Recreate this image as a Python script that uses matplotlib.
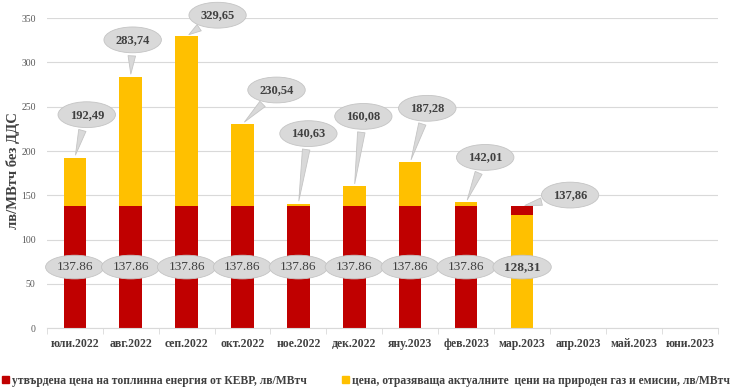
import matplotlib
matplotlib.use('Agg')
import matplotlib.pyplot as plt
from matplotlib.patches import Patch
import numpy as np

# data
months = ['юли.2022', 'авг.2022', 'сеп.2022', 'окт.2022', 'ное.2022', 'дек.2022',
          'яну.2023', 'фев.2023', 'мар.2023', 'апр.2023', 'май.2023', 'юни.2023']
kevr_price = [137.86, 137.86, 137.86, 137.86, 137.86, 137.86, 137.86, 137.86, 137.86]
gas_price = [192.49, 283.74, 329.65, 230.54, 140.63, 160.08, 187.28, 142.01, 128.31]
top_labels = ['192,49', '283,74', '329,65', '230,54', '140,63', '160,08',
              '187,28', '142,01', '137,86']
bottom_labels = ['137.86', '137.86', '137.86', '137.86', '137.86', '137.86',
                 '137.86', '137.86', '128,31']
legend_labels = ['утвърдена цена на топлинна енергия от КЕВР, лв/МВтч',
                 'цена, отразяваща актуалните  цени на природен газ и емисии, лв/МВтч']

# styles
RED = '#C00000'
YEL = '#FFC000'
BUBBLE = '#D9D9D9'
BUBBLE_EC = '#C4C4C4'
TXT = '#404040'
SERIF = ['Liberation Serif', 'DejaVu Serif']

# callout offsets in pixels from bar top (dx, dy)
offsets = [(12, 43), (2, 37), (31, 21), (34, 34), (10, 70), (9, 70),
           (17, 54), (19, 45), (48, 11)]

fig = plt.figure(figsize=(7.31, 3.87), dpi=100)
ax = fig.add_axes([0.064, 0.152, 0.918, 0.801])

kevr = np.array(kevr_price)
gas = np.array(gas_price)
x = np.arange(len(kevr))
low = np.minimum(kevr, gas)
high = np.maximum(kevr, gas)
low_col = [RED if k <= g else YEL for k, g in zip(kevr, gas)]
high_col = [YEL if k <= g else RED for k, g in zip(kevr, gas)]

ax.bar(x, low, width=0.4, color=low_col, zorder=2)
ax.bar(x, high - low, bottom=low, width=0.4, color=high_col, zorder=2)

# top callouts
for i in range(len(x)):
    ax.annotate(top_labels[i], xy=(x[i], high[i]), xytext=offsets[i],
                textcoords='offset pixels', ha='center', va='center',
                fontsize=9, fontweight='bold', color=TXT, family=SERIF,
                bbox=dict(boxstyle='ellipse,pad=0.25', fc=BUBBLE, ec=BUBBLE_EC, lw=0.6),
                arrowprops=dict(arrowstyle='wedge,tail_width=0.6,shrink_factor=0.5',
                                fc=BUBBLE, ec=BUBBLE_EC, lw=0.6),
                annotation_clip=False, zorder=4)

# bottom labels
for i in range(len(x)):
    wt = 'normal' if kevr[i] <= gas[i] else 'bold'
    ax.text(x[i], 69, bottom_labels[i], ha='center', va='center',
            fontsize=9.5, fontweight=wt, color=TXT, family=SERIF,
            bbox=dict(boxstyle='ellipse,pad=0.18', fc=BUBBLE, ec=BUBBLE_EC, lw=0.6),
            zorder=4)

# axes
ax.set_xlim(-0.5, len(months) - 0.5)
ax.set_ylim(0, 350)
ax.set_yticks(np.arange(0, 351, 50))
ax.set_xticks(np.arange(len(months)))
ax.set_xticklabels(months, fontsize=8.5, fontweight='bold', color=TXT, family=SERIF)
ax.set_xticks(np.arange(len(months) + 1) - 0.5, minor=True)
ax.tick_params(axis='x', which='major', length=0, pad=7)
ax.tick_params(axis='x', which='minor', length=4, color='#D9D9D9', direction='out')
ax.tick_params(axis='y', length=0, labelsize=7, labelcolor='#595959', pad=8)
for lab in ax.get_yticklabels():
    lab.set_family(SERIF)
ax.grid(axis='y', color='#D9D9D9', lw=0.8, zorder=0)
for s in ['top', 'right', 'left']:
    ax.spines[s].set_visible(False)
ax.spines['bottom'].set_color('#D9D9D9')
ax.set_ylabel('лв/МВтч без ДДС', fontsize=10.5, fontweight='bold', color=TXT,
              family=SERIF)
ax.yaxis.set_label_coords(-0.04, 0.51)

# legend
handles = [Patch(color=RED), Patch(color=YEL)]
fig.legend(handles, legend_labels, ncol=2, loc='lower left',
           bbox_to_anchor=(0.0, -0.005), frameon=False, handlelength=0.6,
           handleheight=0.6, handletextpad=0.25, columnspacing=3.0,
           borderpad=0.2, borderaxespad=0.0,
           prop=dict(family=SERIF, weight='bold', size=8.4), labelcolor=TXT)

fig.savefig('out.png', dpi=100)
